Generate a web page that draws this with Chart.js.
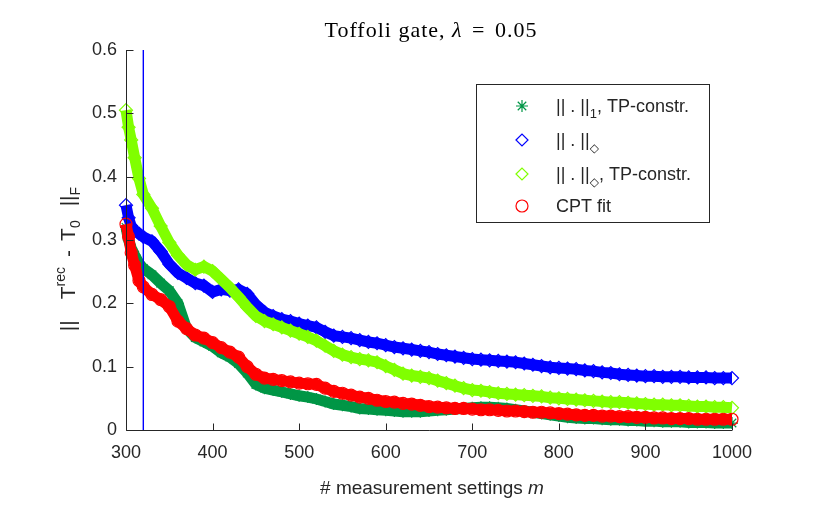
<!DOCTYPE html>
<html>
<head>
<meta charset="utf-8">
<script src="https://cdn.jsdelivr.net/npm/chart.js@4.4.1/dist/chart.umd.min.js"></script>
<style>
  html, body { margin: 0; padding: 0; background: #fff; }
</style>
</head>
<body>
<canvas id="myChart" width="834" height="515"></canvas>
<script>
// number of measurement settings m
const mValues = [300, 303, 306, 310, 315, 320,
  330, 340, 350, 360, 370, 380, 390, 400, 410, 420,
  430, 440, 450, 460, 470, 480, 490, 500, 510, 520,
  530, 540, 550, 560, 570, 580, 590, 600, 610, 620,
  630, 640, 650, 660, 670, 680, 690, 700, 710, 720,
  730, 740, 750, 760, 770, 780, 790, 800, 810, 820,
  830, 840, 850, 860, 870, 880, 890, 900, 910, 920,
  930, 940, 950, 960, 970, 980, 990, 1000];

// || . ||_1, TP-constr.
const l1TP = [0.320, 0.300, 0.287, 0.276, 0.263, 0.255,
  0.245, 0.232, 0.220, 0.200, 0.160, 0.146, 0.139, 0.132, 0.122, 0.115,
  0.105, 0.090, 0.072, 0.066, 0.063, 0.060, 0.057, 0.054, 0.052, 0.049,
  0.045, 0.041, 0.039, 0.037, 0.034, 0.033, 0.032, 0.031, 0.030, 0.029,
  0.029, 0.029, 0.030, 0.031, 0.032, 0.033, 0.034, 0.035, 0.036, 0.036,
  0.035, 0.034, 0.032, 0.030, 0.028, 0.026, 0.024, 0.022, 0.020, 0.019,
  0.018, 0.018, 0.017, 0.016, 0.016, 0.015, 0.015, 0.014, 0.014, 0.013,
  0.013, 0.013, 0.012, 0.012, 0.012, 0.011, 0.011, 0.011];

// || . ||_diamond
const diamondNorm = [0.355, 0.335, 0.322, 0.315, 0.310, 0.305,
  0.298, 0.282, 0.262, 0.248, 0.240, 0.232, 0.228, 0.218, 0.222, 0.220,
  0.222, 0.215, 0.198, 0.186, 0.180, 0.175, 0.172, 0.168, 0.165, 0.162,
  0.155, 0.149, 0.147, 0.145, 0.142, 0.139, 0.137, 0.134, 0.131, 0.129,
  0.127, 0.125, 0.123, 0.120, 0.118, 0.116, 0.114, 0.112, 0.111, 0.110,
  0.109, 0.108, 0.107, 0.105, 0.103, 0.101, 0.099, 0.098, 0.097, 0.096,
  0.094, 0.093, 0.091, 0.090, 0.088, 0.087, 0.086, 0.085, 0.085, 0.084,
  0.084, 0.084, 0.083, 0.083, 0.083, 0.082, 0.082, 0.082];

// || . ||_diamond, TP-constr.
const diamondTP = [0.505, 0.478, 0.458, 0.430, 0.397, 0.372,
  0.350, 0.322, 0.296, 0.276, 0.261, 0.253, 0.258, 0.251, 0.238, 0.225,
  0.210, 0.194, 0.180, 0.172, 0.167, 0.162, 0.157, 0.152, 0.147, 0.141,
  0.133, 0.125, 0.119, 0.115, 0.112, 0.110, 0.107, 0.101, 0.095, 0.089,
  0.086, 0.084, 0.082, 0.078, 0.074, 0.070, 0.066, 0.063, 0.062, 0.060,
  0.058, 0.057, 0.056, 0.055, 0.054, 0.053, 0.051, 0.050, 0.049, 0.048,
  0.047, 0.046, 0.045, 0.044, 0.044, 0.043, 0.042, 0.041, 0.040, 0.040,
  0.039, 0.039, 0.038, 0.037, 0.037, 0.036, 0.036, 0.035];

// CPT fit
const cptFit = [0.325, 0.305, 0.280, 0.260, 0.236, 0.226,
  0.214, 0.206, 0.195, 0.172, 0.160, 0.150, 0.145, 0.138, 0.130, 0.123,
  0.115, 0.100, 0.088, 0.082, 0.080, 0.078, 0.076, 0.074, 0.073, 0.072,
  0.066, 0.061, 0.058, 0.055, 0.052, 0.050, 0.047, 0.045, 0.044, 0.042,
  0.041, 0.039, 0.037, 0.036, 0.035, 0.034, 0.034, 0.033, 0.032, 0.032,
  0.031, 0.030, 0.030, 0.029, 0.028, 0.028, 0.027, 0.026, 0.025, 0.024,
  0.023, 0.023, 0.022, 0.022, 0.021, 0.021, 0.020, 0.020, 0.019, 0.019,
  0.018, 0.018, 0.018, 0.017, 0.017, 0.017, 0.017, 0.017];

const xTicks = [300, 400, 500, 600, 700, 800, 900, 1000];
const yTicks = [0, 0.1, 0.2, 0.3, 0.4, 0.5, 0.6];
const markerLine = 320;

const axisColor = '#262626';
const sans = '"Liberation Sans", Arial, Helvetica, sans-serif';
const serif = '"Liberation Serif", "Times New Roman", serif';

const toPoints = (ys) => mValues.map((m, i) => ({ x: m, y: ys[i] }));

const series = [
  { data: l1TP, color: 'rgb(0,150,70)', style: 'star', radius: 6, order: 3 },
  { data: diamondNorm, color: '#0000FF', style: 'rectRot', radius: 6.5, order: 2 },
  { data: diamondTP, color: '#80FF00', style: 'rectRot', radius: 6.5, order: 1 },
  { data: cptFit, color: '#FF0000', style: 'circle', radius: 6, order: 0 },
];

// rich text: parts = [{t, size, dy, italic, gap}]
const partFont = (p) => (p.italic ? 'italic ' : '') + p.size + 'px ' + (p.family || sans);
function partWidth(ctx, p) {
  if (p.gap) return p.gap;
  ctx.font = partFont(p);
  return ctx.measureText(p.t).width;
}
function richWidth(ctx, parts) {
  return parts.reduce((w, p) => w + partWidth(ctx, p), 0);
}
function drawRich(ctx, parts, x, y, align) {
  let cx = align === 'center' ? x - richWidth(ctx, parts) / 2 : x;
  ctx.textBaseline = 'alphabetic';
  ctx.textAlign = 'left';
  parts.forEach(p => {
    if (!p.gap) {
      ctx.font = partFont(p);
      ctx.fillText(p.t, cx, y + (p.dy || 0));
    }
    cx += partWidth(ctx, p);
  });
}

const matlabDecor = {
  id: 'matlabDecor',
  afterDatasetsDraw(chart) {
    const ctx = chart.ctx;
    const xs = chart.scales.x, ys = chart.scales.y;
    const left = Math.round(xs.left) + 0.5;
    const bottom = Math.round(ys.bottom) + 0.5;
    ctx.save();
    ctx.lineWidth = 1;
    ctx.strokeStyle = axisColor;
    ctx.beginPath();
    ctx.moveTo(left, ys.top);
    ctx.lineTo(left, bottom);
    ctx.lineTo(xs.right, bottom);
    xTicks.forEach(v => {
      const px = Math.round(xs.getPixelForValue(v)) + 0.5;
      ctx.moveTo(px, bottom);
      ctx.lineTo(px, bottom - 7);
    });
    yTicks.forEach(v => {
      const py = Math.round(ys.getPixelForValue(v)) + 0.5;
      ctx.moveTo(left, py);
      ctx.lineTo(left + 7, py);
    });
    ctx.stroke();
    ctx.restore();

    // vertical line at m = 320
    ctx.save();
    const vx = xs.getPixelForValue(markerLine);
    ctx.globalAlpha = 1;
    ctx.strokeStyle = 'rgb(0,0,255)';
    ctx.lineWidth = 1.4;
    ctx.beginPath();
    ctx.moveTo(vx, ys.top);
    ctx.lineTo(vx, ys.bottom);
    ctx.stroke();
    ctx.restore();
  },
  afterDraw(chart) {
    const ctx = chart.ctx;
    const xs = chart.scales.x;
    const mid = (xs.left + xs.right) / 2;
    ctx.save();
    ctx.fillStyle = '#000';
    // title
    ctx.letterSpacing = '1px';
    drawRich(ctx, [
      { t: 'Toffoli gate, ', size: 22, family: serif },
      { t: 'λ', size: 22, family: serif, italic: true },
      { gap: 3 },
      { t: ' = ', size: 22, family: serif },
      { gap: 3 },
      { t: '0.05', size: 22, family: serif },
    ], mid + 2, 37, 'center');
    ctx.letterSpacing = '0px';

    ctx.fillStyle = axisColor;
    // x label
    drawRich(ctx, [
      { t: '# measurement settings ', size: 19 },
      { t: 'm', size: 19, italic: true },
    ], mid + 3, 494, 'center');

    // y label (reads bottom to top)
    ctx.save();
    ctx.translate(75, 259);
    ctx.rotate(-Math.PI / 2);
    drawRich(ctx, [
      { t: '||', size: 21 },
      { gap: 21 },
      { t: 'T', size: 21 },
      { t: 'rec', size: 14, dy: -10 },
      { gap: 10 },
      { t: '-', size: 21 },
      { gap: 9 },
      { t: 'T', size: 21 },
      { t: '0', size: 14, dy: 5 },
      { gap: 14 },
      { t: '||', size: 21 },
      { t: 'F', size: 14, dy: 5 },
    ], 0, 0, 'center');
    ctx.restore();

    // legend box
    const bx = 476.5, by = 84.5, bw = 233, bh = 138;
    ctx.fillStyle = '#fff';
    ctx.fillRect(bx, by, bw, bh);
    ctx.strokeStyle = axisColor;
    ctx.lineWidth = 1;
    ctx.strokeRect(bx, by, bw, bh);
    const dia = '"DejaVu Sans", sans-serif';
    const rows = [
      [{ t: '|| . ||', size: 18 }, { t: '1', size: 13, dy: 6 }, { t: ', TP-constr.', size: 18 }],
      [{ t: '|| . ||', size: 18 }, { t: '◇', size: 12, dy: 6, family: dia }],
      [{ t: '|| . ||', size: 18 }, { t: '◇', size: 12, dy: 6, family: dia }, { t: ', TP-constr.', size: 18 }],
      [{ t: 'CPT fit', size: 18 }],
    ];
    const rowY = [106, 140, 174, 206];
    rows.forEach((parts, i) => {
      const s = series[i];
      ctx.strokeStyle = s.color;
      ctx.fillStyle = 'rgba(0,0,0,0)';
      ctx.lineWidth = 1.2;
      Chart.helpers.drawPoint(ctx, { pointStyle: s.style, radius: 6, rotation: 0, borderWidth: 1.2 }, 522, rowY[i]);
      ctx.fillStyle = axisColor;
      drawRich(ctx, parts, 556, rowY[i] + 6, 'left');
    });
    ctx.restore();
  }
};

const ctx = document.getElementById('myChart');
new Chart(ctx, {
  type: 'scatter',
  data: {
    datasets: series.map(s => ({
      data: toPoints(s.data),
      showLine: true,
      borderColor: s.color,
      borderWidth: 11,
      pointStyle: s.style,
      pointRadius: s.radius,
      pointBorderWidth: 1.2,
      pointBorderColor: s.color,
      pointBackgroundColor: 'rgba(0,0,0,0)',
      backgroundColor: 'rgba(0,0,0,0)',
      tension: 0,
      order: s.order,
      clip: false,
    }))
  },
  plugins: [matlabDecor],
  options: {
    responsive: false,
    animation: false,
    devicePixelRatio: 1,
    layout: { padding: { top: 50, right: 102, left: 0, bottom: 0 } },
    plugins: {
      legend: { display: false },
      title: { display: false },
      tooltip: { enabled: false },
    },
    scales: {
      x: {
        type: 'linear',
        min: 300,
        max: 1000,
        afterBuildTicks: (s) => { s.ticks = xTicks.map(v => ({ value: v })); },
        afterFit: (s) => { s.height = 85; },
        grid: { display: false, drawTicks: false },
        border: { display: false },
        ticks: {
          color: axisColor, padding: 12, maxRotation: 0, font: { family: sans, size: 18 },
          callback: (v) => String(v),
        },
      },
      y: {
        min: 0,
        max: 0.6,
        afterBuildTicks: (s) => { s.ticks = yTicks.map(v => ({ value: v })); },
        afterFit: (s) => { s.width = 126; },
        grid: { display: false, drawTicks: false },
        border: { display: false },
        ticks: {
          color: axisColor, padding: 9, font: { family: sans, size: 18 },
          callback: (v) => (v === 0 ? '0' : v.toFixed(1)),
        },
      },
    },
  },
});
</script>
</body>
</html>
